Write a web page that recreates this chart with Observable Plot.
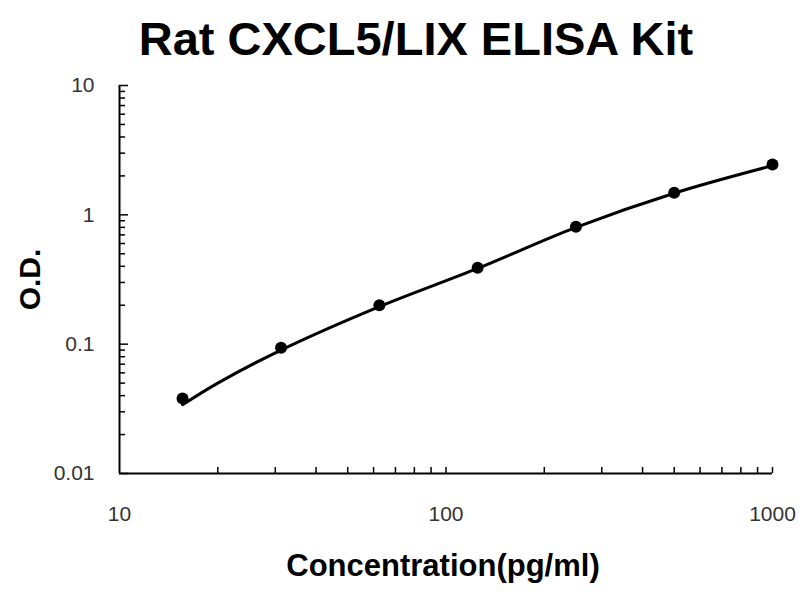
<!DOCTYPE html>
<html>
<head>
<meta charset="utf-8">
<script src="https://cdn.jsdelivr.net/npm/d3@7"></script>
<script src="https://cdn.jsdelivr.net/npm/@observablehq/plot@0.6"></script>
<style>
  html, body { margin: 0; padding: 0; background: #fff; }
  #title { box-sizing: border-box; width: 800px; height: 62px; padding-top: 15px; padding-left: 32px;
    font-family: "Liberation Sans", Arial, sans-serif; font-weight: bold; font-size: 47px; line-height: 1;
    text-align: center; color: #000; white-space: nowrap; }
</style>
</head>
<body>
<div id="title">Rat CXCL5/LIX ELISA Kit</div>
<div id="chart"></div>
<script>
// Standards (measured points)
const concentration = [15.6, 31.25, 62.5, 125, 250, 500, 1000];
const od = [0.038, 0.094, 0.2, 0.39, 0.81, 1.48, 2.45];

// Fitted curve
const fitConcentration = [15.6, 20, 31.25, 62.5, 125, 250, 500, 1000];
const fitOd = [0.034, 0.05, 0.09, 0.195, 0.385, 0.8, 1.47, 2.4];

// Axis ticks
const yMajor = [0.01, 0.1, 1, 10];
const yMinor = [0.02,0.03,0.04,0.05,0.06,0.07,0.08,0.09,0.2,0.3,0.4,0.5,0.6,0.7,0.8,0.9,2,3,4,5,6,7,8,9];
const xMajor = [10, 100, 1000];
const xMinor = [20,30,40,50,60,70,80,90,100,200,300,400,500,600,700,800,900,1000];

const points = concentration.map((c, i) => ({c, v: od[i]}));
const fit = fitConcentration.map((c, i) => ({c, v: fitOd[i]}));

const font = '"Liberation Sans", Arial, sans-serif';

const chart = Plot.plot({
  width: 800,
  height: 538,
  marginTop: 23,
  marginBottom: 127,
  marginLeft: 119,
  marginRight: 28,
  style: {fontFamily: font, background: "#fff", color: "#000"},
  x: {type: "log", domain: [10, 1000]},
  y: {type: "log", domain: [0.01, 10]},
  marks: [
    // inward minor/major ticks
    Plot.axisY({ticks: yMinor, tickSize: -6, tickFormat: () => "", label: null, strokeWidth: 1.5}),
    Plot.axisY({ticks: yMajor, tickSize: -9, tickFormat: () => "", label: null, strokeWidth: 1.5}),
    Plot.axisY({ticks: yMajor, tickSize: 0, tickPadding: 25, tickFormat: d => String(d), label: null, fontSize: 21, fill: "#333"}),
    Plot.axisX({ticks: xMinor, tickSize: -6, tickFormat: () => "", label: null, strokeWidth: 1.5}),
    Plot.axisX({ticks: xMajor, tickSize: 0, tickPadding: 33, tickFormat: d => String(d), label: null, fontSize: 21, fill: "#333"}),
    // axis lines
    Plot.ruleX([10], {y1: 0.01, y2: 10, strokeWidth: 2}),
    Plot.ruleY([0.01], {x1: 10, x2: 1000, strokeWidth: 2}),
    // fitted curve
    Plot.line(fit, {x: "c", y: "v", curve: "catmull-rom", stroke: "#000", strokeWidth: 3}),
    // points
    Plot.dot(points, {x: "c", y: "v", r: 6, fill: "#000"}),
    // axis titles
    Plot.text(["Concentration(pg/ml)"], {frameAnchor: "bottom", dy: 102, dx: -3, fontSize: 31, fontWeight: "bold", fill: "#000"}),
    Plot.text(["O.D."], {frameAnchor: "left", textAnchor: "middle", lineAnchor: "middle", dx: -89, rotate: -90, fontSize: 30, fontWeight: "bold", fill: "#000"})
  ]
});
document.getElementById("chart").appendChild(chart);
</script>
</body>
</html>
